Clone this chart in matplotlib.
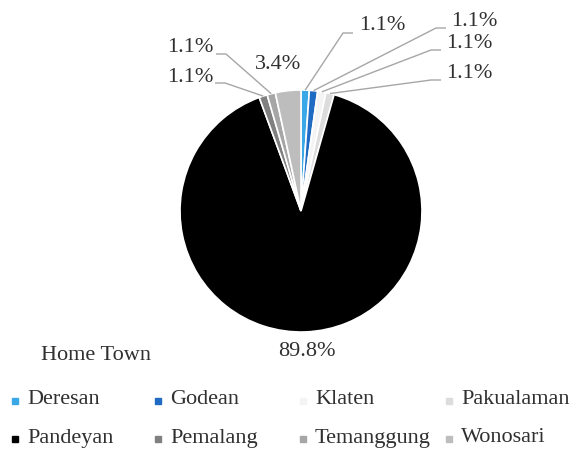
import numpy as np
import matplotlib
matplotlib.use("Agg")
import matplotlib.pyplot as plt
from matplotlib.lines import Line2D

categories = ["Deresan", "Godean", "Klaten", "Pakualaman",
              "Pandeyan", "Pemalang", "Temanggung", "Wonosari"]
values = [1.1, 1.1, 1.1, 1.1, 89.8, 1.1, 1.1, 3.4]
colors = ["#3aa8e6", "#1f6bc4", "#f4f4f4", "#dcdcdc",
          "#000000", "#808080", "#a6a6a6", "#bdbdbd"]
legend_title = "Home Town"

W, H = 582, 450
fig = plt.figure(figsize=(W / 100, H / 100), dpi=100)
plt.rcParams["font.family"] = ["Liberation Serif", "DejaVu Serif"]

cx, cy, R = 301, 211, 121
ax = fig.add_axes([(cx - R) / W, (H - cy - R) / H, 2 * R / W, 2 * R / H])
wedges, _ = ax.pie(values, colors=colors, startangle=90, counterclock=False,
                   radius=1.0,
                   wedgeprops=dict(edgecolor="white", linewidth=1.2))
ax.set_xlim(-1, 1)
ax.set_ylim(-1, 1)
ax.set_aspect("equal")
ax.axis("off")

FS = 16
TXT = "#303030"
line_col = "#a6a6a6"

def px2data(px, py):
    return (px - cx) / R, (cy - py) / R

# label specs: (text pixel pos, elbow points in pixels or None)
label_pos = {
    "Deresan": ((382, 26), [(353, 33), (343, 33)]),
    "Godean": ((474, 22), [(446, 28), (436, 28)]),
    "Klaten": ((469, 44), [(441, 50), (431, 50)]),
    "Pakualaman": ((469, 73), [(441, 80), (431, 80)]),
    "Pemalang": ((190, 78), [(215, 83), (225, 83)]),
    "Temanggung": ((190, 48), [(216, 54), (226, 54)]),
    "Wonosari": ((278, 65), None),
    "Pandeyan": ((307, 352), None),
}

for w, cat, v in zip(wedges, categories, values):
    (tx, ty), elbow = label_pos[cat]
    fig.text(tx / W, 1 - ty / H, f"{v:.1f}%", ha="center", va="center",
             fontsize=FS, color=TXT)
    if elbow:
        mid = np.deg2rad((w.theta1 + w.theta2) / 2)
        x0, y0 = 1.0 * np.cos(mid), 1.0 * np.sin(mid)
        pts = [px2data(*p) for p in elbow] + [(x0, y0)]
        xs = [p[0] for p in pts]
        ys = [p[1] for p in pts]
        ax.plot(xs, ys, color=line_col, lw=1.0, clip_on=False,
                solid_capstyle="butt")

# legend
fig.text(41 / W, 1 - 356 / H, legend_title, ha="left", va="center",
         fontsize=FS, color=TXT)
col_x = [27, 170, 315, 461]
row_y = [400, 438]
for i, (cat, c) in enumerate(zip(categories, colors)):
    r, k = divmod(i, 4)
    tx = col_x[k]
    my = row_y[r]
    fig.add_artist(Line2D([(tx - 12) / W], [1 - (my + 1) / H], marker="s",
                          markersize=4.2, color=c, markeredgecolor=c,
                          linestyle="none"))
    fig.text(tx / W, 1 - my / H, cat, ha="left", va="center",
             fontsize=FS, color=TXT)

fig.savefig("out.png", dpi=100, facecolor="white")
